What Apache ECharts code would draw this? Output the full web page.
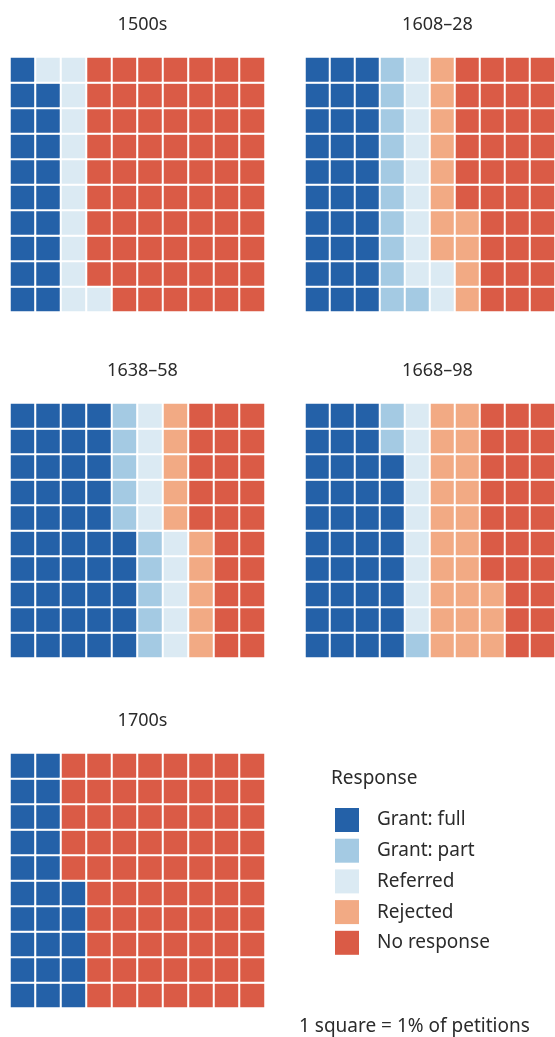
<!DOCTYPE html>
<html>
<head>
<meta charset="utf-8">
<script src="https://cdn.jsdelivr.net/npm/echarts@6/dist/echarts.min.js"></script>
<style>
	html, body { margin: 0; padding: 0; background: #fff; }
	#chart { width: 555px; height: 1037px; }
</style>
</head>
<body>
<div id="chart"></div>
<script>
// petitions by response, % (1 square = 1%)
const periods = ['1500s', '1608–28', '1638–58', '1668–98', '1700s']
const grantFull = [19, 30, 45, 38, 25]
const grantPart = [0, 11, 10, 3, 0]
const referred = [12, 11, 10, 9, 0]
const rejected = [0, 12, 10, 23, 0]
const noResponse = [69, 36, 25, 27, 75]

const responses = ['Grant: full', 'Grant: part', 'Referred', 'Rejected', 'No response']
const colors = ['#2461a8', '#a4cae3', '#dbeaf3', '#f2aa84', '#da5b46']
const ticks = ['0', '1', '2', '3', '4', '5', '6', '7', '8', '9']

// panel placement
const panels = [
	{ left: 10, top: 57 },
	{ left: 305, top: 57 },
	{ left: 10, top: 403 },
	{ left: 305, top: 403 },
	{ left: 10, top: 753 }
]
const size = 255
const font = 'Noto Sans'

// squares fill column by column, bottom to top
function cells(i) {
	const counts = [grantFull[i], grantPart[i], referred[i], rejected[i], noResponse[i]]
	const out = []
	let k = 0
	counts.forEach((n, cat) => {
		for (let j = 0; j < n; j++) {
			out.push([Math.floor(k / 10), k % 10, cat])
			k++
		}
	})
	return out
}

const chart = echarts.init(document.getElementById('chart'))

chart.setOption({
	animation: false,
	textStyle: { fontFamily: font },
	title: periods.map((p, i) => ({
		text: p,
		left: panels[i].left + size / 2,
		top: panels[i].top - 46,
		textAlign: 'center',
		textStyle: { fontSize: 18, fontWeight: 'normal', color: '#2b2b2b', fontFamily: font }
	})).concat([
		{
			text: 'Response',
			left: 326,
			top: 764,
			textStyle: { fontSize: 19, fontWeight: 'normal', color: '#2b2b2b', fontFamily: font }
		},
		{
			text: '1 square = 1% of petitions',
			left: 294,
			top: 1012,
			textStyle: { fontSize: 19, fontWeight: 'normal', color: '#2b2b2b', fontFamily: font }
		}
	]),
	grid: panels.map(p => ({ left: p.left, top: p.top, width: size, height: size })),
	xAxis: panels.map((p, i) => ({ type: 'category', gridIndex: i, data: ticks, show: false })),
	yAxis: panels.map((p, i) => ({ type: 'category', gridIndex: i, data: ticks, show: false })),
	visualMap: {
		type: 'piecewise',
		dimension: 2,
		seriesIndex: [0, 1, 2, 3, 4],
		pieces: responses.map((r, i) => ({ value: i, label: r, color: colors[i] })),
		orient: 'vertical',
		inverse: true,
		align: 'left',
		left: 320,
		top: 793,
		itemWidth: 24,
		itemHeight: 24,
		itemGap: 6.7,
		itemSymbol: 'rect',
		textGap: 18,
		selectedMode: false,
		textStyle: { fontSize: 19, color: '#2b2b2b', fontFamily: font }
	},
	series: periods.map((p, i) => ({
		name: p,
		type: 'heatmap',
		xAxisIndex: i,
		yAxisIndex: i,
		data: cells(i),
		itemStyle: { borderColor: '#fff', borderWidth: 2 },
		emphasis: { disabled: true }
	}))
})
</script>
</body>
</html>
